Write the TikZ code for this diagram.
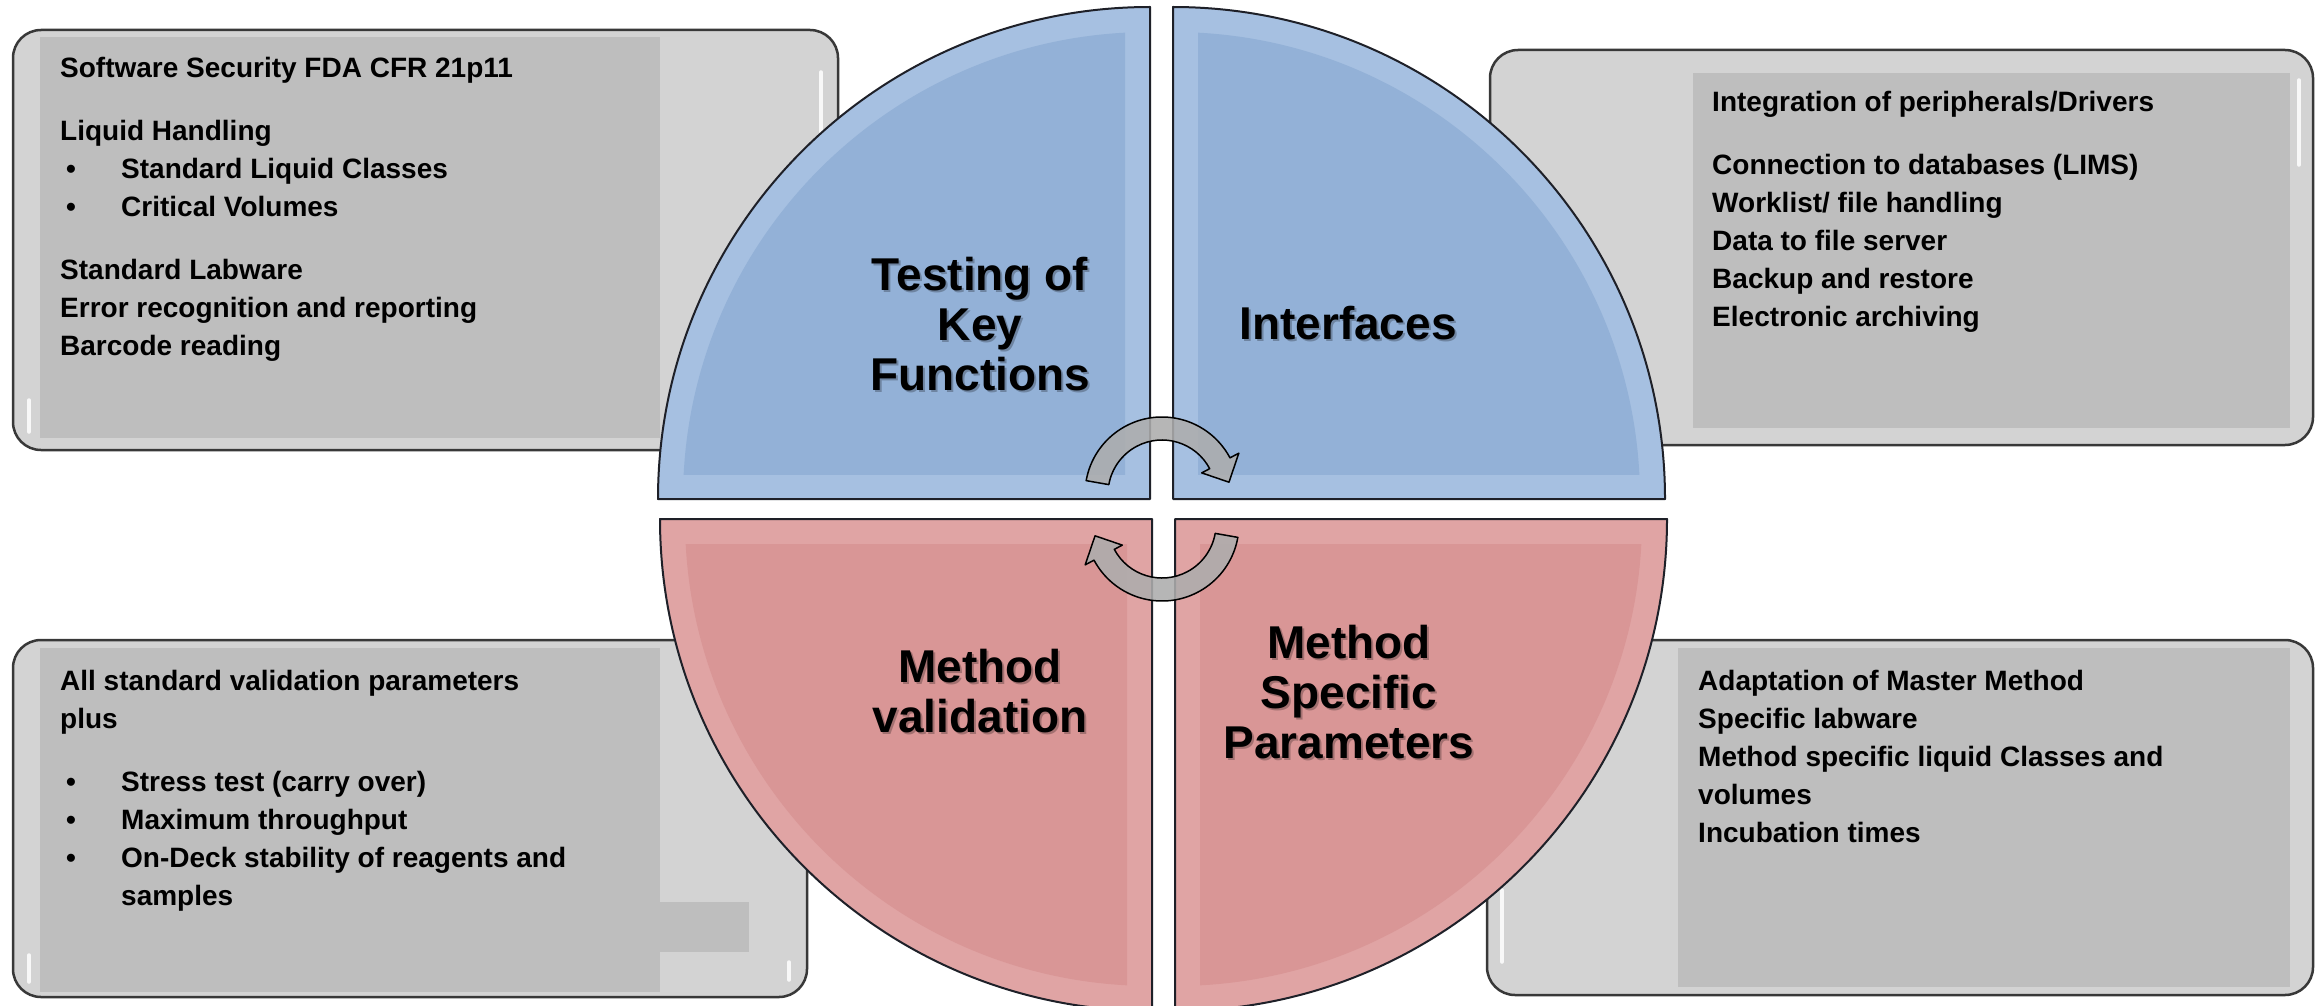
\documentclass[tikz,border=0pt]{standalone}
\usepackage{fontspec}
\setmainfont{Liberation Sans}

\definecolor{boxouter}{HTML}{D3D3D3}
\definecolor{boxinner}{HTML}{BEBEBE}
\definecolor{boxedge}{HTML}{383838}
\definecolor{blueband}{HTML}{A6C0E1}
\definecolor{bluecore}{HTML}{93B1D7}
\definecolor{pinkband}{HTML}{E0A4A4}
\definecolor{pinkcore}{HTML}{D99696}
\definecolor{quadedge}{HTML}{1E2028}
\definecolor{arrowfill}{HTML}{ADADAD}

\tikzset{
  panel/.style={fill=boxouter, draw=boxedge, line width=2.5pt, rounded corners=28pt},
  panelcore/.style={fill=boxinner},
  gloss/.style={draw=white, draw opacity=0.85, line width=3.5pt, line cap=round},
  bodytext/.style={anchor=base west, inner sep=0pt, font=\fontsize{28}{38}\selectfont\bfseries},
  titletext/.style={anchor=base, inner sep=0pt, font=\fontsize{46}{50}\selectfont\bfseries},
  titleshadow/.style={titletext, text=black, opacity=0.25},
  quadline/.style={draw=quadedge, line width=2pt, line join=round},
  cyclearrow/.style={fill=arrowfill, fill opacity=0.88, draw=black, line width=1.5pt, line join=round},
}

\newcommand{\bulletline}[1]{\hspace*{6pt}\makebox[55pt][l]{•}#1}

\begin{document}
\begin{tikzpicture}[x=1pt,y=-1pt]
\useasboundingbox (0,0) rectangle (2323,1006);
\fill[white] (0,0) rectangle (2323,1006);

% ---- side panels (drawn first, the quarter discs overlap them) ----
\draw[panel] (13,30) rectangle (838,450);
\fill[panelcore] (40,37) rectangle (660,438);
\draw[gloss] (821,72) -- (821,140);
\draw[gloss] (29,400) -- (29,432);

\draw[panel] (1490,50) rectangle (2313,445);
\fill[panelcore] (1693,73) rectangle (2290,428);
\draw[gloss] (2299,80) -- (2299,165);

\draw[panel] (13,640) rectangle (807,997);
\fill[panelcore] (40,648) rectangle (660,992);
\fill[panelcore] (660,902) rectangle (749,952);
\draw[gloss] (29,955) -- (29,982);
\draw[gloss] (789,962) -- (789,980);

\draw[panel] (1487,640) rectangle (2313,995);
\fill[panelcore] (1678,648) rectangle (2290,987);
\draw[gloss] (1502,890) -- (1502,962);

% ---- four quarter discs ----
% top left
\fill[blueband] (1150,499) -- ++(180:492) arc[start angle=180,end angle=270,radius=492] -- cycle;
\begin{scope}
  \clip (0,0) rectangle (1125,474);
  \fill[bluecore] (1150,499) circle[radius=467];
\end{scope}
\draw[quadline] (1150,499) -- ++(180:492) arc[start angle=180,end angle=270,radius=492] -- cycle;

% top right
\fill[blueband] (1173,499) -- ++(270:492) arc[start angle=270,end angle=360,radius=492] -- cycle;
\begin{scope}
  \clip (1198,0) rectangle (2323,474);
  \fill[bluecore] (1173,499) circle[radius=467];
\end{scope}
\draw[quadline] (1173,499) -- ++(270:492) arc[start angle=270,end angle=360,radius=492] -- cycle;

% bottom left
\fill[pinkband] (1152,519) -- ++(90:492) arc[start angle=90,end angle=180,radius=492] -- cycle;
\begin{scope}
  \clip (0,544) rectangle (1127,1006);
  \fill[pinkcore] (1152,519) circle[radius=467];
\end{scope}
\draw[quadline] (1152,519) -- ++(90:492) arc[start angle=90,end angle=180,radius=492] -- cycle;

% bottom right
\fill[pinkband] (1175,519) -- ++(0:492) arc[start angle=0,end angle=90,radius=492] -- cycle;
\begin{scope}
  \clip (1200,544) rectangle (2323,1006);
  \fill[pinkcore] (1175,519) circle[radius=467];
\end{scope}
\draw[quadline] (1175,519) -- ++(0:492) arc[start angle=0,end angle=90,radius=492] -- cycle;

% ---- circular arrows in the middle ----
\begin{scope}[shift={(1162,494)}]
  \filldraw[cyclearrow] (190:77) arc[start angle=190,end angle=332,radius=77]
    -- (332:87) -- (350:68) -- (332:45) -- (332:54)
    arc[start angle=332,end angle=190,radius=54] -- cycle;
\end{scope}
\begin{scope}[shift={(1162,524)}, rotate=180]
  \filldraw[cyclearrow] (190:77) arc[start angle=190,end angle=332,radius=77]
    -- (332:87) -- (350:68) -- (332:45) -- (332:54)
    arc[start angle=332,end angle=190,radius=54] -- cycle;
\end{scope}

% ---- quadrant titles ----
\node[titleshadow] (tkfs) at (982,292) {\begin{tabular}[t]{@{}c@{}}Testing of\\Key\\Functions\end{tabular}};
\node[titletext] (tkf) at (980,290) {\begin{tabular}[t]{@{}c@{}}Testing of\\Key\\Functions\end{tabular}};

\node[titleshadow] (ifs) at (1350,341) {Interfaces};
\node[titletext] (if) at (1348,339) {Interfaces};

\node[titleshadow] (mvs) at (982,684) {\begin{tabular}[t]{@{}c@{}}Method\\validation\end{tabular}};
\node[titletext] (mv) at (980,682) {\begin{tabular}[t]{@{}c@{}}Method\\validation\end{tabular}};

\node[titleshadow] (msps) at (1351,660) {\begin{tabular}[t]{@{}c@{}}Method\\Specific\\Parameters\end{tabular}};
\node[titletext] (msp) at (1349,658) {\begin{tabular}[t]{@{}c@{}}Method\\Specific\\Parameters\end{tabular}};

% ---- panel texts ----
\node[bodytext] (keyfunc) at (60,78) {\begin{tabular}[t]{@{}l@{}}
Software Security FDA CFR 21p11\\[25pt]
Liquid Handling\\
\bulletline{Standard Liquid Classes}\\
\bulletline{Critical Volumes}\\[25pt]
Standard Labware\\
Error recognition and reporting\\
Barcode reading
\end{tabular}};

\node[bodytext] (interf) at (1712,112) {\begin{tabular}[t]{@{}l@{}}
Integration of peripherals/Drivers\\[25pt]
Connection to databases (LIMS)\\
Worklist/ file handling\\
Data to file server\\
Backup and restore\\
Electronic archiving
\end{tabular}};

\node[bodytext] (valid) at (60,690) {\begin{tabular}[t]{@{}l@{}}
All standard validation parameters\\
plus\\[25pt]
\bulletline{Stress test (carry over)}\\
\bulletline{Maximum throughput}\\
\bulletline{On-Deck stability of reagents and}\\
\hspace*{61pt}samples
\end{tabular}};

\node[bodytext] (specific) at (1698,690) {\begin{tabular}[t]{@{}l@{}}
Adaptation of Master Method\\
Specific labware\\
Method specific liquid Classes and\\
volumes\\
Incubation times
\end{tabular}};
\end{tikzpicture}
\end{document}
